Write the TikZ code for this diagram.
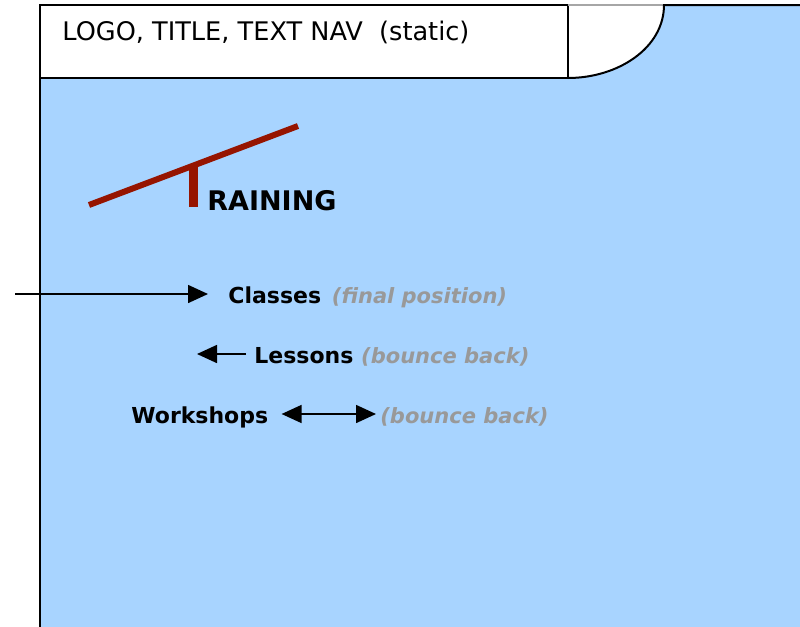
\documentclass[tikz,border=0pt]{standalone}
\usepackage{fontspec}
\setmainfont{DejaVu Sans}
\usetikzlibrary{arrows.meta,positioning}
\definecolor{skyfill}{RGB}{168,212,255}
\definecolor{logored}{RGB}{150,20,0}
\definecolor{notegray}{RGB}{153,153,153}

\begin{document}
\begin{tikzpicture}[x=0.5pt,y=-0.5pt,
  lbl/.style={anchor=west,inner sep=0pt,text height=9pt,text depth=0pt,font=\bfseries\fontsize{11}{13}\selectfont},
  note/.style={lbl,text=notegray,font=\bfseries\itshape\fontsize{10.5}{13}\selectfont},
  mover/.style={line width=0.8pt,-{Triangle[length=10pt,width=9pt]}},
  bounce/.style={line width=0.8pt,{Triangle[length=10pt,width=9pt]}-{Triangle[length=10pt,width=9pt]}}]
  \useasboundingbox (0,0) rectangle (800,627);
  \fill[skyfill] (40,5) rectangle (800,627);
  \fill[white] (568,5) -- (664,5) .. controls (664,48) and (618,78) .. (568,78) -- cycle;
  \fill[white] (40,5) rectangle (568,78);
  \draw[line width=1pt] (40,78) -- (40,627);
  \draw[line width=1pt] (40,5) rectangle (568,78);
  \draw[line width=1pt,black!35] (568,5) -- (664,5);
  \draw[line width=1pt] (800,5) -- (664,5) .. controls (664,48) and (618,78) .. (568,78);
  \node[anchor=base west,inner sep=0pt,font=\fontsize{12.8}{15}\selectfont] (header) at (62,40) {LOGO, TITLE, TEXT NAV\ \ (static)};
  % training logo
  \draw[logored,line width=3pt] (89,205) -- (298,126);
  \draw[logored,line width=4.5pt] (193,165) -- (193,207);
  \node[anchor=base west,inner sep=0pt,font=\bfseries\fontsize{13.5}{15}\selectfont] (training) at (207,210) {RAINING};
  % menu items
  \node[lbl] (classes) at (228,294) {Classes};
  \node[note,right=5pt of classes] (cnote) {(final position)};
  \node[lbl] (lessons) at (254,354) {Lessons};
  \node[note,right=3.5pt of lessons] (lnote) {(bounce back)};
  \node[lbl] (workshops) at (131,414) {Workshops};
  \node[note] (wnote) at (380,414) {(bounce back)};
  \coordinate (cstart) at (15,294);
  \coordinate (lend) at (197,354);
  \draw[mover,shorten >=10pt] (cstart) -- (classes.west);
  \draw[mover] ([xshift=-4pt]lessons.west) -- (lend);
  \draw[bounce] ([xshift=6.5pt]workshops.east) -- ([xshift=-2pt]wnote.west);
\end{tikzpicture}
\end{document}
